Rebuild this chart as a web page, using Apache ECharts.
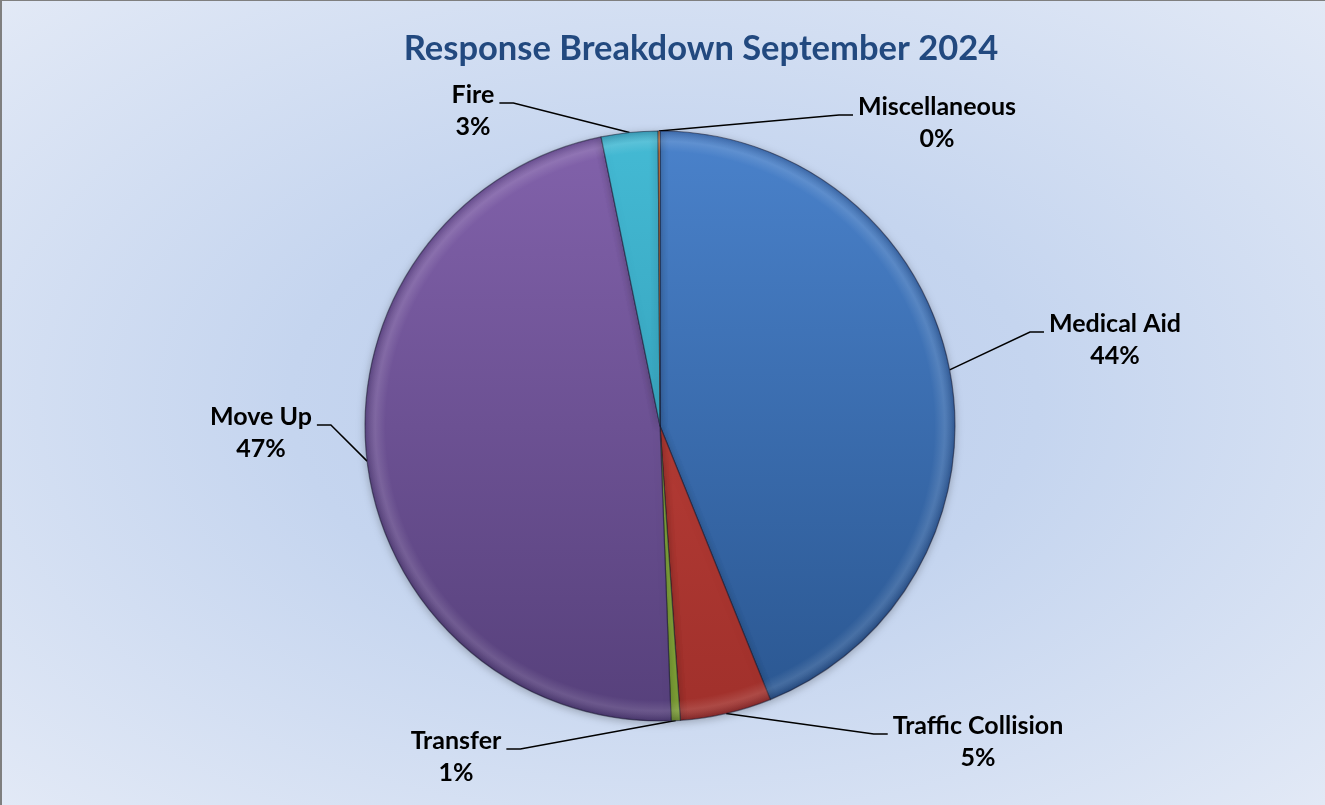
<!DOCTYPE html>
<html>
<head>
<meta charset="utf-8">
<script src="https://cdn.jsdelivr.net/npm/echarts@6/dist/echarts.min.js"></script>
<style>
html,body{margin:0;padding:0;width:1325px;height:805px;overflow:hidden;}
#wrap{position:absolute;left:0;top:0;width:1325px;height:805px;box-sizing:border-box;
  border-left:2px solid #7f7f7f;border-top:1px solid #7f7f7f;
  background:radial-gradient(ellipse farthest-corner at 50% 50%, #bccdec 0%, #c5d5ef 40%, #e2e9f6 100%);}
#chart{position:absolute;left:0;top:0;width:1325px;height:805px;}
</style>
</head>
<body>
<div id="wrap"></div>
<div id="chart"></div>
<script>
// ---- data ----
const chartTitle = 'Response Breakdown September 2024';
const categories = ['Medical Aid', 'Traffic Collision', 'Transfer', 'Move Up', 'Fire', 'Miscellaneous'];
const shares = [43.9, 5.0, 0.5, 47.4, 3.1, 0.1];

// ---- styles ----
const colorTop = ['#4a82cb', '#c6453e', '#9cc15a', '#8262ab', '#44bad4', '#f79646'];
const colorBottom = ['#2a5690', '#a0302b', '#7c9f34', '#56407b', '#2b90aa', '#d27427'];
const pieCenter = [660, 426];
const pieRadius = 295;
const labelCenters = [[1115, 340], [978, 742], [456, 757], [261, 433], [473, 111], [937, 123]];

const chart = echarts.init(document.getElementById('chart'), null, {renderer: 'canvas'});

function grad(i) {
  return {
    type: 'linear', global: true,
    x: 0, y: pieCenter[1] - pieRadius, x2: 0, y2: pieCenter[1] + pieRadius,
    colorStops: [{offset: 0, color: colorTop[i]}, {offset: 1, color: colorBottom[i]}]
  };
}

const pieData = categories.map((name, i) => ({
  name: name,
  value: shares[i],
  itemStyle: {color: grad(i)}
}));

const rimData = categories.map((name, i) => ({name: name, value: shares[i]}));

chart.setOption({
  animation: false,
  backgroundColor: 'transparent',
  graphic: [{
    type: 'text',
    x: 701, y: 49,
    style: {
      text: chartTitle,
      align: 'center', verticalAlign: 'middle',
      fill: '#22497f',
      font: 'bold 34.5px Lato'
    }
  }],
  series: [{
    type: 'pie',
    center: pieCenter,
    radius: pieRadius,
    startAngle: 90,
    clockwise: true,
    percentPrecision: 0,
    avoidLabelOverlap: false,
    data: pieData,
    itemStyle: {
      borderColor: 'rgba(20,20,40,0.5)',
      borderWidth: 1.2,
      shadowBlur: 8,
      shadowColor: 'rgba(0,0,0,0.25)',
      shadowOffsetY: 2
    },
    emphasis: {disabled: true},
    label: {
      show: true,
      position: 'outside',
      formatter: '{b}\n{d}%',
      fontFamily: 'Lato',
      fontWeight: 'bold',
      fontSize: 25,
      lineHeight: 32,
      color: '#000',
      align: 'center'
    },
    labelLine: {
      show: true,
      length: 10,
      length2: 10,
      lineStyle: {color: '#000', width: 1.5}
    },
    labelLayout: function (p) {
      const pos = labelCenters[p.dataIndex];
      const w = p.labelRect.width;
      const onRight = pos[0] > pieCenter[0];
      const endX = onRight ? pos[0] - w / 2 - 5 : pos[0] + w / 2 + 5;
      const endY = pos[1] - 8;
      const bendX = onRight ? endX - 14 : endX + 14;
      const p0 = p.labelLinePoints ? p.labelLinePoints[0] : [bendX, endY];
      return {
        x: pos[0], y: pos[1],
        align: 'center', verticalAlign: 'middle',
        labelLinePoints: [p0, [bendX, endY], [endX, endY]]
      };
    }
  }, {
    // bevel rim overlay (same slices, translucent shading only)
    type: 'pie',
    center: pieCenter,
    radius: pieRadius,
    startAngle: 90,
    clockwise: true,
    silent: true,
    data: rimData,
    label: {show: false},
    labelLine: {show: false},
    emphasis: {disabled: true},
    itemStyle: {
      color: {
        type: 'radial', global: true,
        x: pieCenter[0], y: pieCenter[1], r: pieRadius,
        colorStops: [
          {offset: 0, color: 'rgba(255,255,255,0)'},
          {offset: 0.93, color: 'rgba(255,255,255,0)'},
          {offset: 0.965, color: 'rgba(255,255,255,0.12)'},
          {offset: 1, color: 'rgba(0,0,30,0.18)'}
        ]
      },
      borderWidth: 0
    }
  }]
});
</script>
</body>
</html>
